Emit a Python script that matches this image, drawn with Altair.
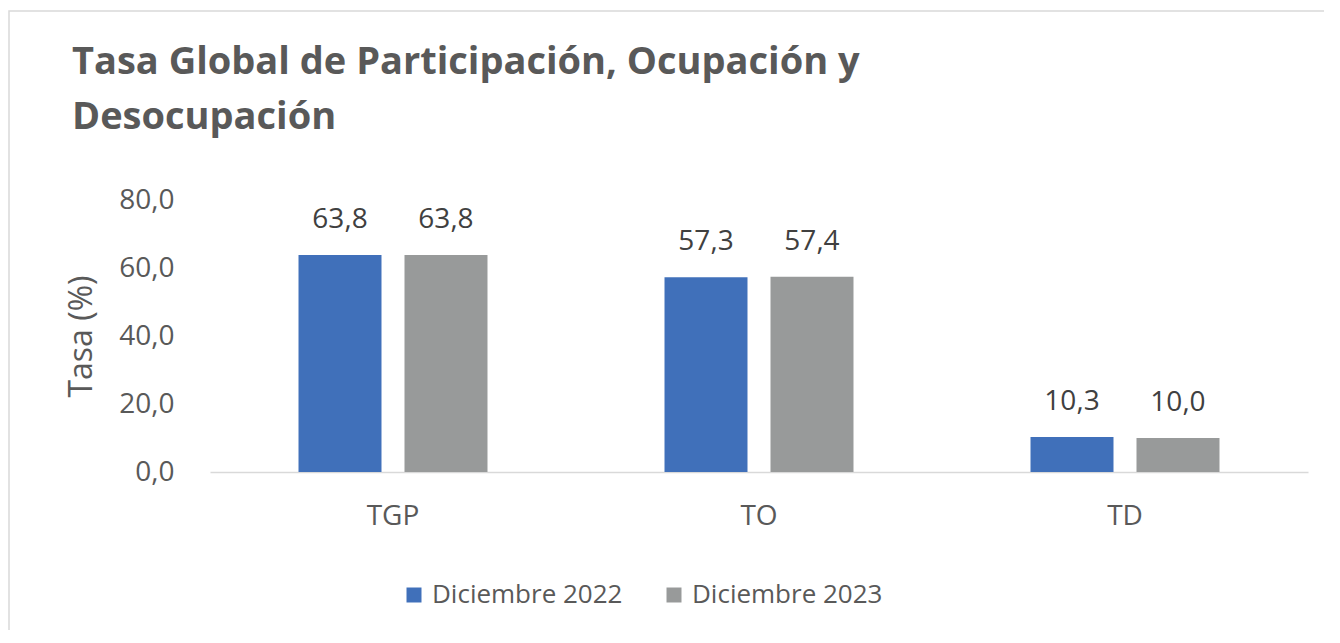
import altair as alt
import pandas as pd

categories = ["TGP", "TO", "TD"]
series = ["Diciembre 2022", "Diciembre 2023"]
values_2022 = [63.8, 57.3, 10.3]
values_2023 = [63.8, 57.4, 10.0]
colors = ["#4070BA", "#989A9A"]
title_lines = ["Tasa Global de Participación, Ocupación y", "Desocupación"]

rows = []
for c, v1, v2 in zip(categories, values_2022, values_2023):
    rows.append({"cat": c, "serie": series[0], "valor": v1})
    rows.append({"cat": c, "serie": series[1], "valor": v2})
df = pd.DataFrame(rows)

FONT = "Open Sans"
W, H = 1098, 272

x = alt.X("cat:N", sort=categories, title=None,
          scale=alt.Scale(paddingInner=0, paddingOuter=0),
          axis=alt.Axis(labelAngle=0, labelFontSize=28, labelColor="#595959", labelFont=FONT,
                        ticks=False, labelPadding=30, domainColor="#D9D9D9", domainWidth=1.5))
xo = alt.XOffset("serie:N", sort=series,
                 scale=alt.Scale(paddingInner=0.217, paddingOuter=0.835))
y = alt.Y("valor:Q", title="Tasa (%)",
          scale=alt.Scale(domain=[0, 80], nice=False),
          axis=alt.Axis(values=[0, 20, 40, 60, 80], grid=False, domain=False, ticks=False,
                        labelExpr="replace(format(datum.value, '.1f'), '.', ',')",
                        labelFontSize=28, labelColor="#595959", labelFont=FONT, labelPadding=36,
                        titleFontSize=32, titleColor="#595959", titleFont=FONT,
                        titleFontWeight="normal", titlePadding=20))

bars = alt.Chart(df).mark_bar().encode(
    x=x, xOffset=xo, y=y,
    color=alt.Color("serie:N", sort=series,
                    scale=alt.Scale(domain=series, range=colors),
                    legend=alt.Legend(title=None, orient="none", direction="horizontal",
                                      legendX=191, legendY=382, padding=0, symbolType="square",
                                      symbolSize=225, symbolStrokeWidth=0,
                                      labelFontSize=26, labelFont=FONT, labelColor="#595959",
                                      labelOffset=5, columnPadding=38, labelLimit=400)),
)

labels = alt.Chart(df).transform_calculate(
    lbl="replace(format(datum.valor, '.1f'), '.', ',')"
).mark_text(fontSize=28, font=FONT, color="#404040", baseline="alphabetic", dy=-27).encode(
    x=alt.X("cat:N", sort=categories), xOffset=alt.XOffset("serie:N", sort=series),
    y="valor:Q", text="lbl:N",
)

title = alt.Chart(pd.DataFrame({"k": [0]})).mark_text(
    align="left", baseline="alphabetic", font=FONT, fontSize=38, fontWeight="bold",
    color="#595959", lineHeight=55
).encode(x=alt.value(-138), y=alt.value(-126), text=alt.value(title_lines))

frame = alt.Chart(pd.DataFrame({"k": [0]})).mark_rect(
    fill=None, stroke="#D9D9D9", strokeWidth=1.5
).encode(x=alt.value(-201), x2=alt.value(W + 60), y=alt.value(-189), y2=alt.value(H + 300))

chart = alt.layer(frame, bars, labels, title).properties(
    width=W, height=H,
    autosize=alt.AutoSizeParams(type="none"),
    padding={"left": 202, "top": 192, "right": 16, "bottom": 158},
).configure_view(stroke=None)

chart.save("out.html", embed_options={"renderer": "svg", "actions": False})
